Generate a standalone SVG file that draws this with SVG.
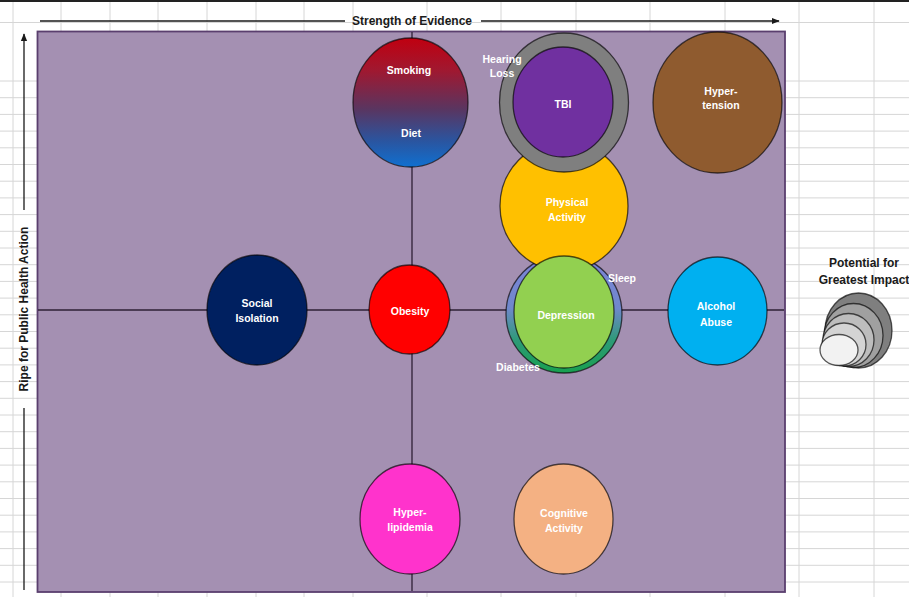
<svg xmlns="http://www.w3.org/2000/svg" width="909" height="597" viewBox="0 0 909 597">
<defs>
<linearGradient id="gSmoke" x1="0" y1="0" x2="0" y2="1">
<stop offset="0" stop-color="#C00010"/>
<stop offset="0.25" stop-color="#A01830"/>
<stop offset="0.55" stop-color="#5A3560"/>
<stop offset="0.8" stop-color="#2A55A0"/>
<stop offset="1" stop-color="#1070D0"/>
</linearGradient>
<linearGradient id="gSleep" x1="0" y1="0" x2="0" y2="1">
<stop offset="0" stop-color="#7D84D8"/>
<stop offset="0.45" stop-color="#7088CC"/>
<stop offset="0.72" stop-color="#2E9A78"/>
<stop offset="1" stop-color="#18A050"/>
</linearGradient>
<marker id="arr" viewBox="0 0 10 10" refX="9" refY="5" markerWidth="6" markerHeight="6" orient="auto">
<path d="M0,1 L10,5 L0,9 Z" fill="#1a1a1a"/>
</marker>
<style>
.grid line{stroke:#D6D6D6;stroke-width:1}
.node{stroke:#000;stroke-opacity:0.65;stroke-width:1.3}
.lbl{font-family:"Liberation Sans",Arial,sans-serif;font-weight:bold;font-size:10.5px;fill:#FFFFFF;text-anchor:middle}
.axis{font-family:"Liberation Sans",Arial,sans-serif;font-weight:bold;font-size:12px;fill:#1a1a1a;text-anchor:middle}
.aline{stroke:#1a1a1a;stroke-width:1.3;fill:none}
.quad{stroke:#2E2035;stroke-width:1.3}
</style>
</defs>
<rect x="0" y="0" width="909" height="597" fill="#FFFFFF"/>
<g class="grid">
<line x1="0" y1="22.5" x2="909" y2="22.5"/>
<line x1="0" y1="81" x2="909" y2="81"/><line x1="0" y1="97.7" x2="909" y2="97.7"/><line x1="0" y1="114.4" x2="909" y2="114.4"/><line x1="0" y1="131.1" x2="909" y2="131.1"/><line x1="0" y1="147.8" x2="909" y2="147.8"/><line x1="0" y1="164.5" x2="909" y2="164.5"/><line x1="0" y1="181.2" x2="909" y2="181.2"/><line x1="0" y1="197.9" x2="909" y2="197.9"/><line x1="0" y1="214.6" x2="909" y2="214.6"/><line x1="0" y1="231.3" x2="909" y2="231.3"/><line x1="0" y1="248" x2="909" y2="248"/><line x1="0" y1="264.7" x2="909" y2="264.7"/><line x1="0" y1="281.4" x2="909" y2="281.4"/><line x1="0" y1="298.1" x2="909" y2="298.1"/><line x1="0" y1="314.8" x2="909" y2="314.8"/><line x1="0" y1="331.5" x2="909" y2="331.5"/><line x1="0" y1="348.2" x2="909" y2="348.2"/><line x1="0" y1="364.9" x2="909" y2="364.9"/><line x1="0" y1="381.6" x2="909" y2="381.6"/><line x1="0" y1="398.3" x2="909" y2="398.3"/><line x1="0" y1="415" x2="909" y2="415"/><line x1="0" y1="431.7" x2="909" y2="431.7"/><line x1="0" y1="448.4" x2="909" y2="448.4"/><line x1="0" y1="465.1" x2="909" y2="465.1"/><line x1="0" y1="481.8" x2="909" y2="481.8"/><line x1="0" y1="498.5" x2="909" y2="498.5"/><line x1="0" y1="515.2" x2="909" y2="515.2"/><line x1="0" y1="531.9" x2="909" y2="531.9"/><line x1="0" y1="548.6" x2="909" y2="548.6"/><line x1="0" y1="565.3" x2="909" y2="565.3"/><line x1="0" y1="582" x2="909" y2="582"/>
<line x1="13" y1="0" x2="13" y2="597"/><line x1="61" y1="0" x2="61" y2="597"/><line x1="110" y1="0" x2="110" y2="597"/><line x1="158" y1="0" x2="158" y2="597"/><line x1="207" y1="0" x2="207" y2="597"/><line x1="256" y1="0" x2="256" y2="597"/><line x1="304" y1="0" x2="304" y2="597"/><line x1="353" y1="0" x2="353" y2="597"/><line x1="427" y1="0" x2="427" y2="597"/><line x1="501" y1="0" x2="501" y2="597"/><line x1="576" y1="0" x2="576" y2="597"/><line x1="650" y1="0" x2="650" y2="597"/><line x1="725" y1="0" x2="725" y2="597"/><line x1="799" y1="0" x2="799" y2="597"/><line x1="874" y1="0" x2="874" y2="597"/>
</g>
<rect x="0" y="0" width="909" height="2" fill="#222222"/>
<rect id="plot" x="37.5" y="31.5" width="747.5" height="560.5" fill="#A490B2" stroke="#5A3F6E" stroke-width="1.8"/>
<g id="connectors">
<line class="quad" x1="38" y1="310" x2="784" y2="310"/>
<line class="quad" x1="412" y1="32" x2="412" y2="591"/>
<line class="aline" x1="40" y1="21" x2="345" y2="21"/>
<line class="aline" x1="481" y1="21" x2="779" y2="21" marker-end="url(#arr)"/>
<line class="aline" x1="24" y1="590" x2="24" y2="408"/>
<line class="aline" x1="24" y1="210" x2="24" y2="34" marker-end="url(#arr)"/>
</g>
<text class="axis" x="412" y="25" font-size="11.5">Strength of Evidence</text>
<text class="axis" transform="translate(28,309) rotate(-90)">Ripe for Public Health Action</text>
<g id="smoking-diet">
<ellipse class="node" cx="410.5" cy="102.5" rx="57.5" ry="64.5" fill="url(#gSmoke)"/>
<text class="lbl" x="409" y="74">Smoking</text>
<text class="lbl" x="411" y="137">Diet</text>
</g>
<g id="sleep-diabetes">
<ellipse class="node" cx="564" cy="314" rx="58" ry="59" fill="url(#gSleep)"/>
<text class="lbl" x="622" y="282">Sleep</text>
<text class="lbl" x="518" y="371">Diabetes</text>
</g>
<g id="physical-activity">
<ellipse class="node" cx="564" cy="206" rx="64" ry="65" fill="#FFC000"/>
<text class="lbl" x="567" y="206">Physical</text>
<text class="lbl" x="567" y="221">Activity</text>
</g>
<g id="hearing-loss">
<ellipse class="node" cx="564" cy="102.5" rx="64.5" ry="69.5" fill="#7F7F7F"/>
<text class="lbl" x="502" y="63">Hearing</text>
<text class="lbl" x="502" y="77">Loss</text>
</g>
<g id="tbi">
<ellipse class="node" cx="563" cy="102" rx="50" ry="55" fill="#7030A0"/>
<text class="lbl" x="563" y="108">TBI</text>
</g>
<g id="hypertension">
<ellipse class="node" cx="717.5" cy="102.5" rx="64.5" ry="70.5" fill="#8F5B2F"/>
<text class="lbl" x="721" y="95">Hyper-</text>
<text class="lbl" x="721" y="109">tension</text>
</g>
<g id="depression">
<ellipse class="node" cx="564" cy="312" rx="50" ry="56" fill="#92D050"/>
<text class="lbl" x="566" y="319">Depression</text>
</g>
<g id="social-isolation">
<ellipse class="node" cx="257" cy="310" rx="50" ry="55" fill="#002060"/>
<text class="lbl" x="257" y="307">Social</text>
<text class="lbl" x="257" y="322">Isolation</text>
</g>
<g id="obesity">
<ellipse class="node" cx="409.5" cy="309.5" rx="40.5" ry="44.5" fill="#FF0000"/>
<text class="lbl" x="410" y="315">Obesity</text>
</g>
<g id="alcohol-abuse">
<ellipse class="node" cx="717.5" cy="311" rx="49.5" ry="54" fill="#00B0F0"/>
<text class="lbl" x="716" y="310">Alcohol</text>
<text class="lbl" x="716" y="326">Abuse</text>
</g>
<g id="hyperlipidemia">
<ellipse class="node" cx="410" cy="519" rx="50" ry="55" fill="#FF33CC"/>
<text class="lbl" x="410" y="516">Hyper-</text>
<text class="lbl" x="410" y="531">lipidemia</text>
</g>
<g id="cognitive-activity">
<ellipse class="node" cx="563.5" cy="519" rx="49.5" ry="55" fill="#F4B183"/>
<text class="lbl" x="564" y="517">Cognitive</text>
<text class="lbl" x="564" y="532">Activity</text>
</g>
<g id="legend">
<text class="axis" x="864" y="267">Potential for</text>
<text class="axis" x="864" y="284">Greatest Impact</text>
<ellipse class="node" cx="858.5" cy="330.5" rx="33.5" ry="37.5" fill="#7F7F7F"/>
<ellipse class="node" cx="853.5" cy="335.5" rx="29.5" ry="32" fill="#A0A0A0"/>
<ellipse class="node" cx="848.5" cy="340" rx="25.5" ry="26.5" fill="#BDBDBD"/>
<ellipse class="node" cx="844" cy="344.5" rx="22" ry="21.5" fill="#D4D4D4"/>
<ellipse class="node" cx="839" cy="350" rx="19" ry="15.5" fill="#F2F2F2"/>
</g>
</svg>
